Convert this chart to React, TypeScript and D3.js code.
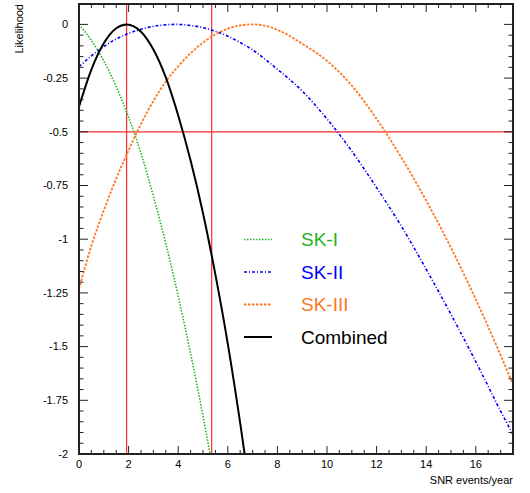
import React from "react";
import * as d3 from "d3";

// ---- data ----
const xTickLabels = [0, 2, 4, 6, 8, 10, 12, 14, 16];
const yTickValues = [0, -0.25, -0.5, -0.75, -1, -1.25, -1.5, -1.75, -2];
const yTickLabels = ["0", "-0.25", "-0.5", "-0.75", "-1", "-1.25", "-1.5", "-1.75", "-2"];

const skIX = [0, 0.5, 1, 1.5, 2, 2.5, 3, 3.5, 4, 4.5, 5, 5.5];
const skIY = [0, -0.075, -0.17, -0.29, -0.432, -0.6, -0.8, -1.02, -1.265, -1.533, -1.823, -2.14];

const skIIX = [0, 0.5, 1, 1.5, 2, 2.5, 3, 3.5, 3.9, 4.5, 5, 6, 7, 8, 9, 10, 11, 12, 13, 14, 15, 16, 17, 17.5];
const skIIY = [-0.197, -0.146, -0.103, -0.068, -0.042, -0.023, -0.009, -0.002, 0, -0.005, -0.015, -0.055, -0.119, -0.209, -0.31, -0.44, -0.59, -0.76, -0.94, -1.14, -1.35, -1.57, -1.8, -1.91];

const skIIIX = [0, 0.5, 1, 1.5, 2, 2.5, 3, 3.5, 4, 4.5, 5, 5.5, 6, 6.5, 7, 7.5, 8, 9, 10, 11, 12, 13, 14, 15, 16, 17, 17.5];
const skIIIY = [-1.232, -1.03, -0.866, -0.718, -0.586, -0.463, -0.356, -0.266, -0.195, -0.134, -0.085, -0.047, -0.02, -0.005, 0, -0.006, -0.025, -0.09, -0.17, -0.285, -0.44, -0.62, -0.82, -1.04, -1.28, -1.54, -1.675];

const combX = [0, 0.5, 1, 1.5, 1.92, 2.5, 3, 3.5, 4, 4.5, 5, 5.5, 6, 6.5, 7];
const combY = [-0.383, -0.21, -0.088, -0.018, 0, -0.034, -0.117, -0.247, -0.424, -0.634, -0.879, -1.165, -1.487, -1.856, -2.26];

const redVerticals = [1.92, 5.35];
const redHorizontal = -0.5;

const seriesNames = ["SK-I", "SK-II", "SK-III", "Combined"];
const seriesColors = ["#22b422", "#0000ff", "#ff7722", "#000000"];
const seriesDash = ["1.5 1.5", "3 2 1 2", "2.5 1.5", ""];
const seriesWidth = [1.6, 1.6, 1.8, 2];

const W = 530;
const H = 493;
const L = 79, R = 513, T = 4, B = 454;

export default function App() {
  const x = d3.scaleLinear().domain([0, 17.5]).range([L, R]);
  const y = d3.scaleLinear().domain([-2, 0.095]).range([B, T]);

  const seriesX = [skIX, skIIX, skIIIX, combX];
  const seriesY = [skIY, skIIY, skIIIY, combY];

  const line = d3
    .line<[number, number]>()
    .x((d) => x(d[0]))
    .y((d) => y(d[1]))
    .curve(d3.curveMonotoneX);

  const xMinor = d3.range(0, 17.51, 0.5);
  const yMinor = d3.range(0, 41).map((i) => -i * 0.05);
  const font = "Liberation Sans, Arial, Helvetica, sans-serif";
  const axisColor = "#222";

  return (
    <div style={{ position: "absolute", left: 0, top: 0 }}>
      <svg width={W} height={H} style={{ display: "block", background: "#fff" }} fontFamily={font}>
        <defs>
          <clipPath id="plotclip">
            <rect x={L} y={T} width={R - L} height={B - T} />
          </clipPath>
        </defs>
        <rect x={0} y={0} width={W} height={H} fill="#fff" />

        {/* red reference lines */}
        <g stroke="#ff2a2a" strokeWidth={1.2}>
          {redVerticals.map((v, i) => (
            <line key={i} x1={x(v)} x2={x(v)} y1={T} y2={B} />
          ))}
          <line x1={L} x2={R} y1={y(redHorizontal)} y2={y(redHorizontal)} />
        </g>

        {/* curves */}
        <g clipPath="url(#plotclip)" fill="none">
          {seriesX.map((xs, si) => (
            <path
              key={si}
              d={line(xs.map((v, i) => [v, seriesY[si][i]] as [number, number])) || ""}
              stroke={seriesColors[si]}
              strokeWidth={seriesWidth[si]}
              strokeDasharray={seriesDash[si] || undefined}
            />
          ))}
        </g>

        {/* ticks */}
        <g stroke={axisColor} strokeWidth={1}>
          {xMinor.map((v, i) => {
            const major = Math.abs(v / 2 - Math.round(v / 2)) < 1e-6;
            const len = major ? 8 : 4;
            return (
              <g key={i}>
                <line x1={x(v)} x2={x(v)} y1={B} y2={B - len} />
                <line x1={x(v)} x2={x(v)} y1={T} y2={T + len} />
              </g>
            );
          })}
          {yMinor.map((v, i) => {
            const major = i % 5 === 0;
            const len = major ? 9 : 4.5;
            return (
              <g key={i}>
                <line x1={L} x2={L + len} y1={y(v)} y2={y(v)} />
                <line x1={R} x2={R - len} y1={y(v)} y2={y(v)} />
              </g>
            );
          })}
        </g>

        {/* frame */}
        <rect x={L} y={T} width={R - L} height={B - T} fill="none" stroke={axisColor} strokeWidth={2} />

        {/* tick labels */}
        <g fontSize={11} fill="#000">
          {xTickLabels.map((v) => (
            <text key={v} x={x(v)} y={468} textAnchor="middle">
              {v}
            </text>
          ))}
          {yTickValues.map((v, i) => (
            <text key={i} x={68} y={y(v)} dy="0.35em" textAnchor="end">
              {yTickLabels[i]}
            </text>
          ))}
        </g>

        {/* axis titles */}
        <text x={R} y={484} fontSize={11} textAnchor="end">
          SNR events/year
        </text>
        <text transform={`translate(23,4) rotate(-90)`} fontSize={11} textAnchor="end">
          Likelihood
        </text>

        {/* legend */}
        <g>
          {seriesNames.map((name, i) => {
            const ly = 239.5 + i * 32.5;
            return (
              <g key={name}>
                <line
                  x1={244}
                  x2={272}
                  y1={ly}
                  y2={ly}
                  stroke={seriesColors[i]}
                  strokeWidth={seriesWidth[i]}
                  strokeDasharray={seriesDash[i] || undefined}
                />
                <text x={301} y={ly} dy="0.36em" fontSize={19} fill={seriesColors[i]}>
                  {name}
                </text>
              </g>
            );
          })}
        </g>
      </svg>
    </div>
  );
}
